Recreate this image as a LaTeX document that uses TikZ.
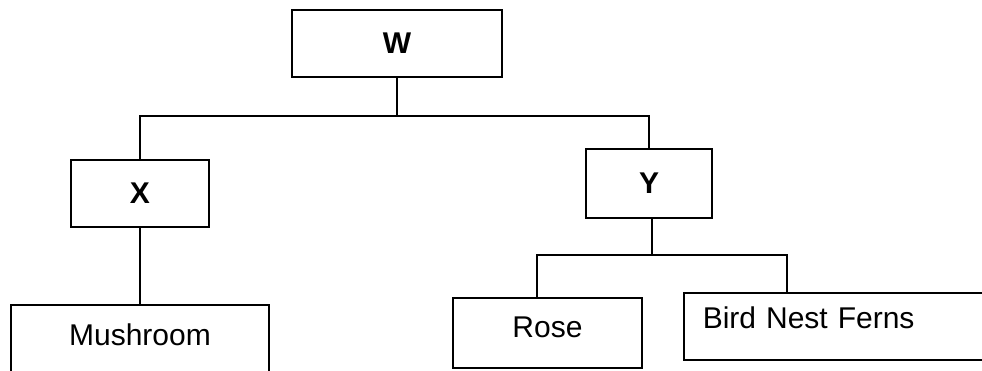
\documentclass[tikz,border=0pt]{standalone}
\usepackage{fontspec}
\setmainfont{Liberation Sans}
\begin{document}
\begin{tikzpicture}[x=1pt,y=-1pt,
  box/.style={draw,line width=1.6pt,rectangle,inner sep=0pt,font=\fontsize{30}{36}\selectfont},
  link/.style={line width=1.6pt}]
\useasboundingbox (0,0) rectangle (982,371);
\clip (0,0) rectangle (982,371);
\node[box,minimum width=210pt,minimum height=67pt,font=\fontsize{30}{36}\selectfont\bfseries] (W) at (397,43.5) {W};
\node[box,minimum width=138pt,minimum height=67pt,font=\fontsize{30}{36}\selectfont\bfseries] (X) at (140,193.5) {X};
\node[box,minimum width=126pt,minimum height=69pt,font=\fontsize{30}{36}\selectfont\bfseries] (Y) at (649,183.5) {Y};
\node[box,anchor=north,minimum width=258pt,text height=22pt,text depth=40pt,inner ysep=19pt] (M) at (140,304) {Mushroom};
\node[box,anchor=north,minimum width=189pt,text height=22pt,text depth=12pt,inner ysep=18pt] (R) at (547.5,297) {Rose};
\node[box,anchor=north west,text height=22pt,text depth=17pt,inner ysep=14pt,text width=340pt,align=left,inner xsep=19pt] (B) at (683,292) {Bird Nest Ferns};
\coordinate (j1) at (397,116);
\coordinate (j2) at (652,255);
\coordinate (r) at (537,255);
\coordinate (b) at (787,255);
\draw[link] (W.south) -- (j1);
\draw[link] (X.north) |- (j1) -| (Y.north);
\draw[link] (X.south) -- (M.north);
\draw[link] (Y.south -| j2) -- (j2);
\draw[link] (R.north -| r) -- (r) -- (b) -- (B.north -| b);
\end{tikzpicture}
\end{document}
